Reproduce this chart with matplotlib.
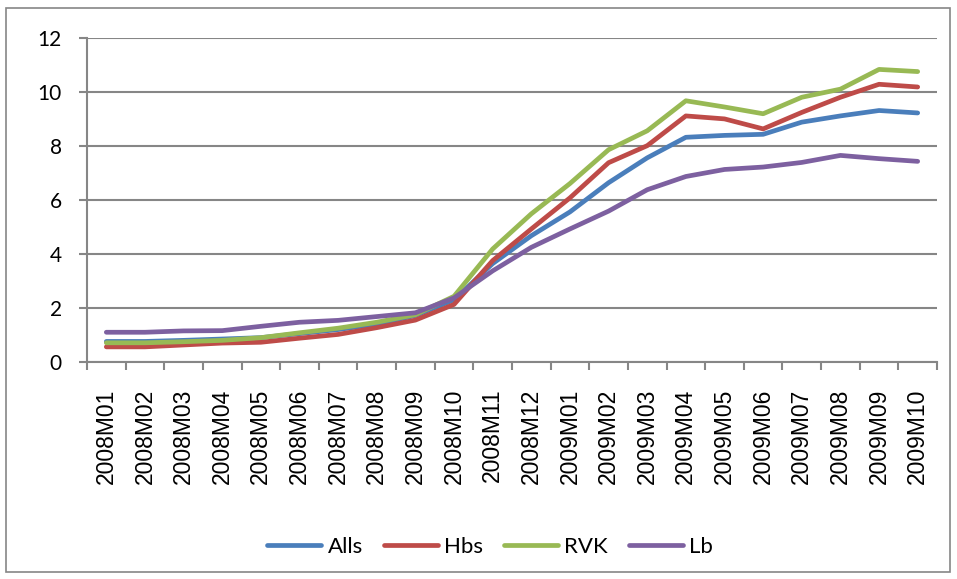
import matplotlib as mpl
mpl.use('Agg')
import matplotlib.pyplot as plt
from matplotlib.patches import Rectangle
import numpy as np

months = ['2008M01', '2008M02', '2008M03', '2008M04', '2008M05', '2008M06',
          '2008M07', '2008M08', '2008M09', '2008M10', '2008M11', '2008M12',
          '2009M01', '2009M02', '2009M03', '2009M04', '2009M05', '2009M06',
          '2009M07', '2009M08', '2009M09', '2009M10']

alls = [0.76, 0.76, 0.8, 0.85, 0.9, 1.05, 1.2, 1.4, 1.72, 2.3, 3.64, 4.67,
        5.55, 6.63, 7.55, 8.31, 8.38, 8.42, 8.87, 9.1, 9.3, 9.21]
hbs = [0.56, 0.56, 0.63, 0.7, 0.73, 0.88, 1.02, 1.27, 1.55, 2.13, 3.75, 4.92,
       6.07, 7.37, 8.0, 9.1, 8.99, 8.62, 9.23, 9.79, 10.27, 10.17]
rvk = [0.71, 0.71, 0.75, 0.8, 0.9, 1.08, 1.25, 1.47, 1.75, 2.43, 4.18, 5.48,
       6.6, 7.85, 8.55, 9.66, 9.43, 9.18, 9.79, 10.09, 10.82, 10.74]
lb = [1.1, 1.1, 1.15, 1.16, 1.32, 1.47, 1.54, 1.68, 1.82, 2.37, 3.37, 4.24,
      4.92, 5.58, 6.37, 6.86, 7.12, 7.21, 7.38, 7.64, 7.52, 7.42]

series = [('Alls', alls, '#4A7EBB'), ('Hbs', hbs, '#BE4B48'),
          ('RVK', rvk, '#98B954'), ('Lb', lb, '#7D60A0')]

grey = '#868686'

fig = plt.figure(figsize=(9.57, 5.79), dpi=100)
ax = fig.add_axes([87/957, 1-362/579, (937-87)/957, (362-37.5)/579])

x = np.arange(len(months))
for name, vals, col in series:
    ax.plot(x, vals, color=col, lw=3.4, label=name, solid_capstyle='round')

ax.set_xlim(-0.5, len(months)-0.5)
ax.set_ylim(0, 12)
ax.set_yticks(range(0, 13, 2))
ax.set_xticks(x)
ax.set_xticklabels(months, rotation=90, fontsize=16.5, family='Liberation Sans')
ax.set_xticks(np.arange(-0.5, len(months)), minor=True)
ax.tick_params(axis='x', which='major', length=0, pad=19)
ax.tick_params(axis='x', which='minor', length=6, width=1.5, color=grey)
ax.tick_params(axis='y', length=6, width=1.5, color=grey, pad=12, labelsize=15)
for lab in ax.get_yticklabels():
    lab.set_family('Lato')
ax.grid(axis='y', color=grey, lw=1.5)
ax.set_axisbelow(True)
for s in ['top', 'right']:
    ax.spines[s].set_visible(False)
for s in ['left', 'bottom']:
    ax.spines[s].set_color(grey)
    ax.spines[s].set_linewidth(1.5)

fig.legend(loc='center', bbox_to_anchor=(490/957, 1-547/579), ncol=4,
           frameon=False, prop={'family': 'Lato', 'size': 16},
           handlelength=2.43, columnspacing=0.95, handletextpad=0.27)

fig.patches.append(Rectangle((6/957, 1-572/579), 944/957, 564/579,
                             transform=fig.transFigure, fill=False,
                             edgecolor=grey, lw=1.2))

fig.savefig('out.png', dpi=100)
